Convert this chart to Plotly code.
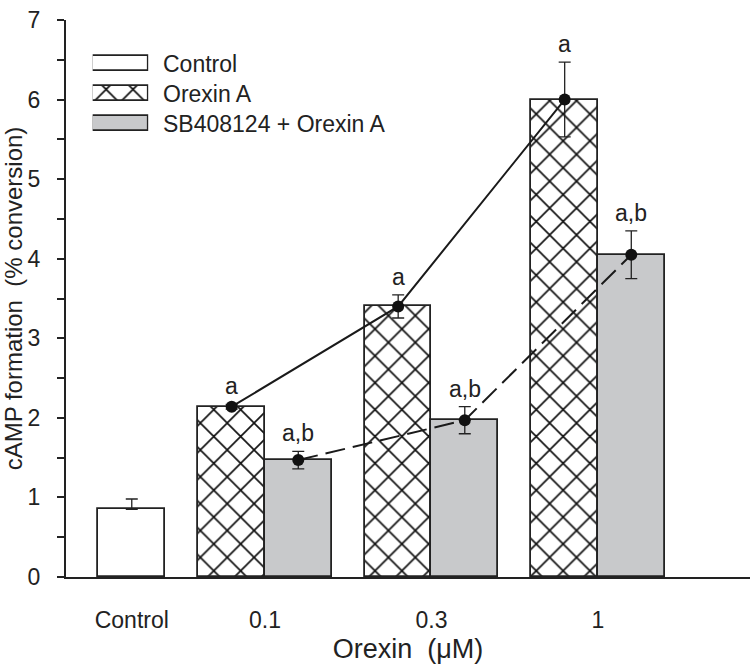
import plotly.graph_objects as go

# ---------------- data ----------------
doses = ["0.1", "0.3", "1"]
control_label = "Control"
control_mean = [0.85]
control_err = [0.13]
orexin_mean = [2.14, 3.40, 6.00]
orexin_err = [0.03, 0.145, 0.47]
sb_mean = [1.47, 1.97, 4.05]
sb_err = [0.11, 0.17, 0.30]
orexin_sig = ["a", "a", "a"]
sb_sig = ["a,b", "a,b", "a,b"]
series_names = ["Control", "Orexin A", "SB408124 + Orexin A"]
y_tick_values = [0, 1, 2, 3, 4, 5, 6, 7]

# ---------------- layout constants ----------------
FONT = "Arial, Liberation Sans, sans-serif"
INK = "#222222"
GRAY = "#c8c9cb"
BW = 0.4
FS = 23
group_x = [i + 1 for i in range(len(doses))]
orx_x = [g - BW / 2 for g in group_x]
sb_x = [g + BW / 2 for g in group_x]
ctrl_x = [1 - 2 * BW]

hatch = dict(shape="x", size=19, solidity=0.17, fgcolor="#111111", fgopacity=1,
             bgcolor="white", fillmode="replace")

fig = go.Figure()

fig.add_trace(go.Bar(
    x=ctrl_x, y=control_mean, width=BW, name=series_names[0], showlegend=False,
    marker=dict(color="white", line=dict(color=INK, width=1.8)),
    error_y=dict(type="data", symmetric=False, array=control_err, arrayminus=[0] * len(control_err),
                 color=INK, thickness=1.3, width=6),
))
fig.add_trace(go.Bar(
    x=orx_x, y=orexin_mean, width=BW, name=series_names[1], showlegend=False,
    marker=dict(color="white", pattern=hatch, line=dict(color=INK, width=1.8)),
))
fig.add_trace(go.Bar(
    x=sb_x, y=sb_mean, width=BW, name=series_names[2], showlegend=False,
    marker=dict(color=GRAY, line=dict(color=INK, width=1.8)),
))

fig.add_trace(go.Scatter(
    x=orx_x, y=orexin_mean, mode="lines+markers", showlegend=False,
    line=dict(color="#1a1a1a", width=2),
    marker=dict(color="#111111", size=12),
    error_y=dict(type="data", array=orexin_err, color=INK, thickness=1.3, width=6),
))
fig.add_trace(go.Scatter(
    x=sb_x, y=sb_mean, mode="lines+markers", showlegend=False,
    line=dict(color="#1a1a1a", width=2, dash="20px,8px"),
    marker=dict(color="#111111", size=12),
    error_y=dict(type="data", array=sb_err, color=INK, thickness=1.3, width=6),
))

annotations = []
for xs, ms, es, labels in [(orx_x, orexin_mean, orexin_err, orexin_sig), (sb_x, sb_mean, sb_err, sb_sig)]:
    for x, m, e, t in zip(xs, ms, es, labels):
        annotations.append(dict(x=x, y=m + e, xref="x", yref="y", text=t, showarrow=False,
                                yanchor="bottom", yshift=3, font=dict(family=FONT, size=FS, color=INK)))

# ---------------- legend (patterned swatches on an overlay axis) ----------------
leg_rows = [len(series_names) - 1 - i for i in range(len(series_names))]
fig.add_trace(go.Bar(
    x=[1], y=[leg_rows[0]], orientation="h", width=0.5, xaxis="x2", yaxis="y2", showlegend=False,
    hoverinfo="skip", marker=dict(color="white", line=dict(color=INK, width=1.8)),
))
fig.add_trace(go.Bar(
    x=[1], y=[leg_rows[1]], orientation="h", width=0.5, xaxis="x2", yaxis="y2", showlegend=False,
    hoverinfo="skip", marker=dict(color="white", pattern=hatch, line=dict(color=INK, width=1.8)),
))
fig.add_trace(go.Bar(
    x=[1], y=[leg_rows[2]], orientation="h", width=0.5, xaxis="x2", yaxis="y2", showlegend=False,
    hoverinfo="skip", marker=dict(color=GRAY, line=dict(color=INK, width=1.8)),
))
for name, r in zip(series_names, leg_rows):
    annotations.append(dict(x=0.1385, y=r, xref="paper", yref="y2", text=name, showarrow=False,
                            xanchor="left", yanchor="middle", font=dict(family=FONT, size=FS, color=INK)))

ytext = [str(v) for v in y_tick_values]
yvals = []
ylabels = []
for v, t in zip(y_tick_values, ytext):
    yvals.append(v)
    ylabels.append(t)
    if v != y_tick_values[-1]:
        yvals.append(v + 0.5)
        ylabels.append("")

fig.update_layout(
    width=753, height=671,
    margin=dict(l=66, r=3, t=20, b=94),
    paper_bgcolor="white", plot_bgcolor="white",
    font=dict(family=FONT, size=FS, color=INK),
    barmode="overlay",
    bargap=0,
    annotations=annotations,
    xaxis=dict(
        range=[-0.195, 3.913], showgrid=False, zeroline=False,
        showline=True, linewidth=2, linecolor=INK, ticks="",
        tickvals=ctrl_x + group_x, ticktext=[control_label] + doses,
        tickfont=dict(family=FONT, size=FS, color=INK), ticklabelstandoff=21,
        title=dict(text="Orexin\u00a0\u00a0(\u03bcM)", font=dict(family=FONT, size=27, color=INK), standoff=8),
    ),
    yaxis=dict(
        range=[0, 7], showgrid=False, zeroline=False,
        showline=True, linewidth=2, linecolor=INK,
        ticks="outside", ticklen=7, tickwidth=1.5, tickcolor=INK,
        tickvals=yvals, ticktext=ylabels,
        tickfont=dict(family=FONT, size=FS, color=INK), ticklabelstandoff=12,
        title=dict(text="cAMP formation\u00a0\u00a0(% conversion)", font=dict(family=FONT, size=24, color=INK), standoff=6),
    ),
    xaxis2=dict(domain=[0.039, 0.1203], range=[0, 1], visible=False, fixedrange=True, anchor="y2"),
    yaxis2=dict(domain=[0.7874, 0.9478], range=[-0.5, 2.5], visible=False, fixedrange=True, anchor="x2"),
)

fig.write_html("out.html")
